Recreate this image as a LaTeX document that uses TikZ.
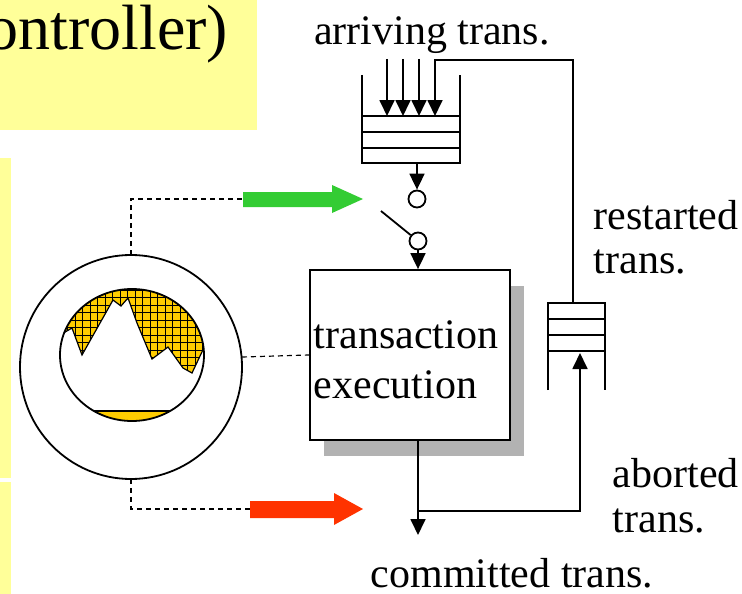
\documentclass[tikz,border=0pt]{standalone}
\usepackage{fontspec}
\setmainfont{Liberation Serif}
\usetikzlibrary{arrows.meta}

\definecolor{slideYellow}{HTML}{FFFF99}
\definecolor{peakGold}{HTML}{FFCC00}
\definecolor{goArrow}{HTML}{33CC33}
\definecolor{stopArrow}{HTML}{FF3300}
\definecolor{boxShadow}{HTML}{B2B2B2}

\tikzset{every picture/.style={line width=1.8pt},
        flow/.style={-{Triangle[length=16pt,width=15pt]}},
        monitor/.style={line width=1.2pt, dash pattern=on 5pt off 4pt},
        txt/.style={font=\fontsize{42}{44}\selectfont, inner sep=0pt},
        switchPin/.style={circle, draw, fill=white, minimum size=17pt, inner sep=0pt}}

\begin{document}
\begin{tikzpicture}[x=1pt, y=-1pt]
\useasboundingbox (0,0) rectangle (742,594);
\clip (0,0) rectangle (742,594);

% slide background bits
\fill[slideYellow] (0,0) rectangle (257,130);
\fill[slideYellow] (0,158) rectangle (11,478);
\fill[slideYellow] (0,482) rectangle (11,594);
\node[anchor=base east, inner sep=0pt, font=\fontsize{64}{66}\selectfont] (title) at (229,50) {ontroller)};

% load monitor: ring with the peaks inside
\coordinate (ring) at (131,367);
\coordinate (hole) at (132,355);
\draw (ring) ellipse [x radius=111, y radius=112];
\begin{scope}
  \clip (hole) ellipse [x radius=72, y radius=66];
  \fill[peakGold] (55,280) -- (55,338) -- (72,328) -- (82,355) -- (113,300) -- (121,306)
     -- (128,298) -- (137,323) -- (152,359) -- (168,347) -- (183,368) -- (192,373)
     -- (210,335) -- (210,280) -- cycle;
  \fill[peakGold] (55,411) rectangle (210,425);
  \draw[line width=1.2pt] (55,411) -- (210,411);
  \draw[line width=1.2pt] (55,338) -- (72,328) -- (82,355) -- (113,300) -- (121,306)
     -- (128,298) -- (137,323) -- (152,359) -- (168,347) -- (183,368) -- (192,373) -- (210,335);
  \clip (55,280) -- (55,338) -- (72,328) -- (82,355) -- (113,300) -- (121,306)
     -- (128,298) -- (137,323) -- (152,359) -- (168,347) -- (183,368) -- (192,373)
     -- (210,335) -- (210,280) -- cycle;
  \foreach \i in {0,...,21} {
    \draw[line width=0.8pt] (60+7.5*\i,285) -- (60+7.5*\i,380);
    \draw[line width=0.8pt] (55,290+7.5*\i) -- (210,290+7.5*\i);
  }
\end{scope}
\draw[line width=1.8pt] (hole) ellipse [x radius=72, y radius=66];

% go / stop signals
\fill[goArrow] (243,192) -- (332,192) -- (332,185) -- (363,199) -- (332,213) -- (332,207) -- (243,207) -- cycle;
\fill[stopArrow] (250,501) -- (334,501) -- (334,493) -- (363,509) -- (334,525) -- (334,518) -- (250,518) -- cycle;

\coordinate (go) at (243,199);
\coordinate (stop) at (250,509);
\draw[monitor] (131,255) |- (go);
\draw[monitor] (131,479) |- (stop);

% input queue
\draw (362,75) -- (362,163) -- (460,163) -- (460,75);
\foreach \y in {116,132,148} {
  \draw (362,\y) -- (460,\y);
}
\foreach \x in {387,403,419} {
  \draw[flow] (\x,59) -- (\x,116);
}
\coordinate (inq-bot) at (417,163);
\coordinate (inq-last) at (435,116);

% restart queue
\draw (548,390) -- (548,303) -- (605,303) -- (605,390);
\foreach \y in {319,335,351} {
  \draw (548,\y) -- (605,\y);
}
\coordinate (rq-top) at (573,303);
\coordinate (rq-in) at (580,353);
\coordinate (loop) at (573,60);

% scheduler switch
\node[switchPin] (sw-in) at (417,199) {};
\node[switchPin] (sw-out) at (418,241) {};
\coordinate (lever) at (381,211);

% execution box
\fill[boxShadow] (324,286) rectangle (524,456);
\node[draw, fill=white, minimum width=200pt, minimum height=170pt] (exec) at (410,355) {};
\node[txt, anchor=base west] (exec-1) at (313,348) {transaction};
\node[txt, anchor=base west] (exec-2) at (313,398) {execution};

\draw[monitor] (242,357) -- (exec.west);

% paths
\draw[flow] (inq-bot) -- (sw-in);
\draw (lever) -- (sw-out);
\draw[flow] (sw-out) -- (sw-out |- exec.north);
\coordinate (done) at (418,535);
\coordinate (split) at (418,511);
\draw[flow] (exec.south -| done) -- (done);
\draw[flow] (split) -| (rq-in);
\draw[flow] (rq-top) -- (loop) -| (inq-last);

% labels
\node[txt, anchor=base] (arriving) at (432,45) {arriving trans.};
\node[txt, anchor=base west] (restarted-1) at (593,229) {restarted};
\node[txt, anchor=base west] (restarted-2) at (593,273) {trans.};
\node[txt, anchor=base west] (aborted-1) at (612,487) {aborted};
\node[txt, anchor=base west] (aborted-2) at (612,532) {trans.};
\node[txt, anchor=base] (committed) at (512,587) {committed trans.};

\end{tikzpicture}
\end{document}
